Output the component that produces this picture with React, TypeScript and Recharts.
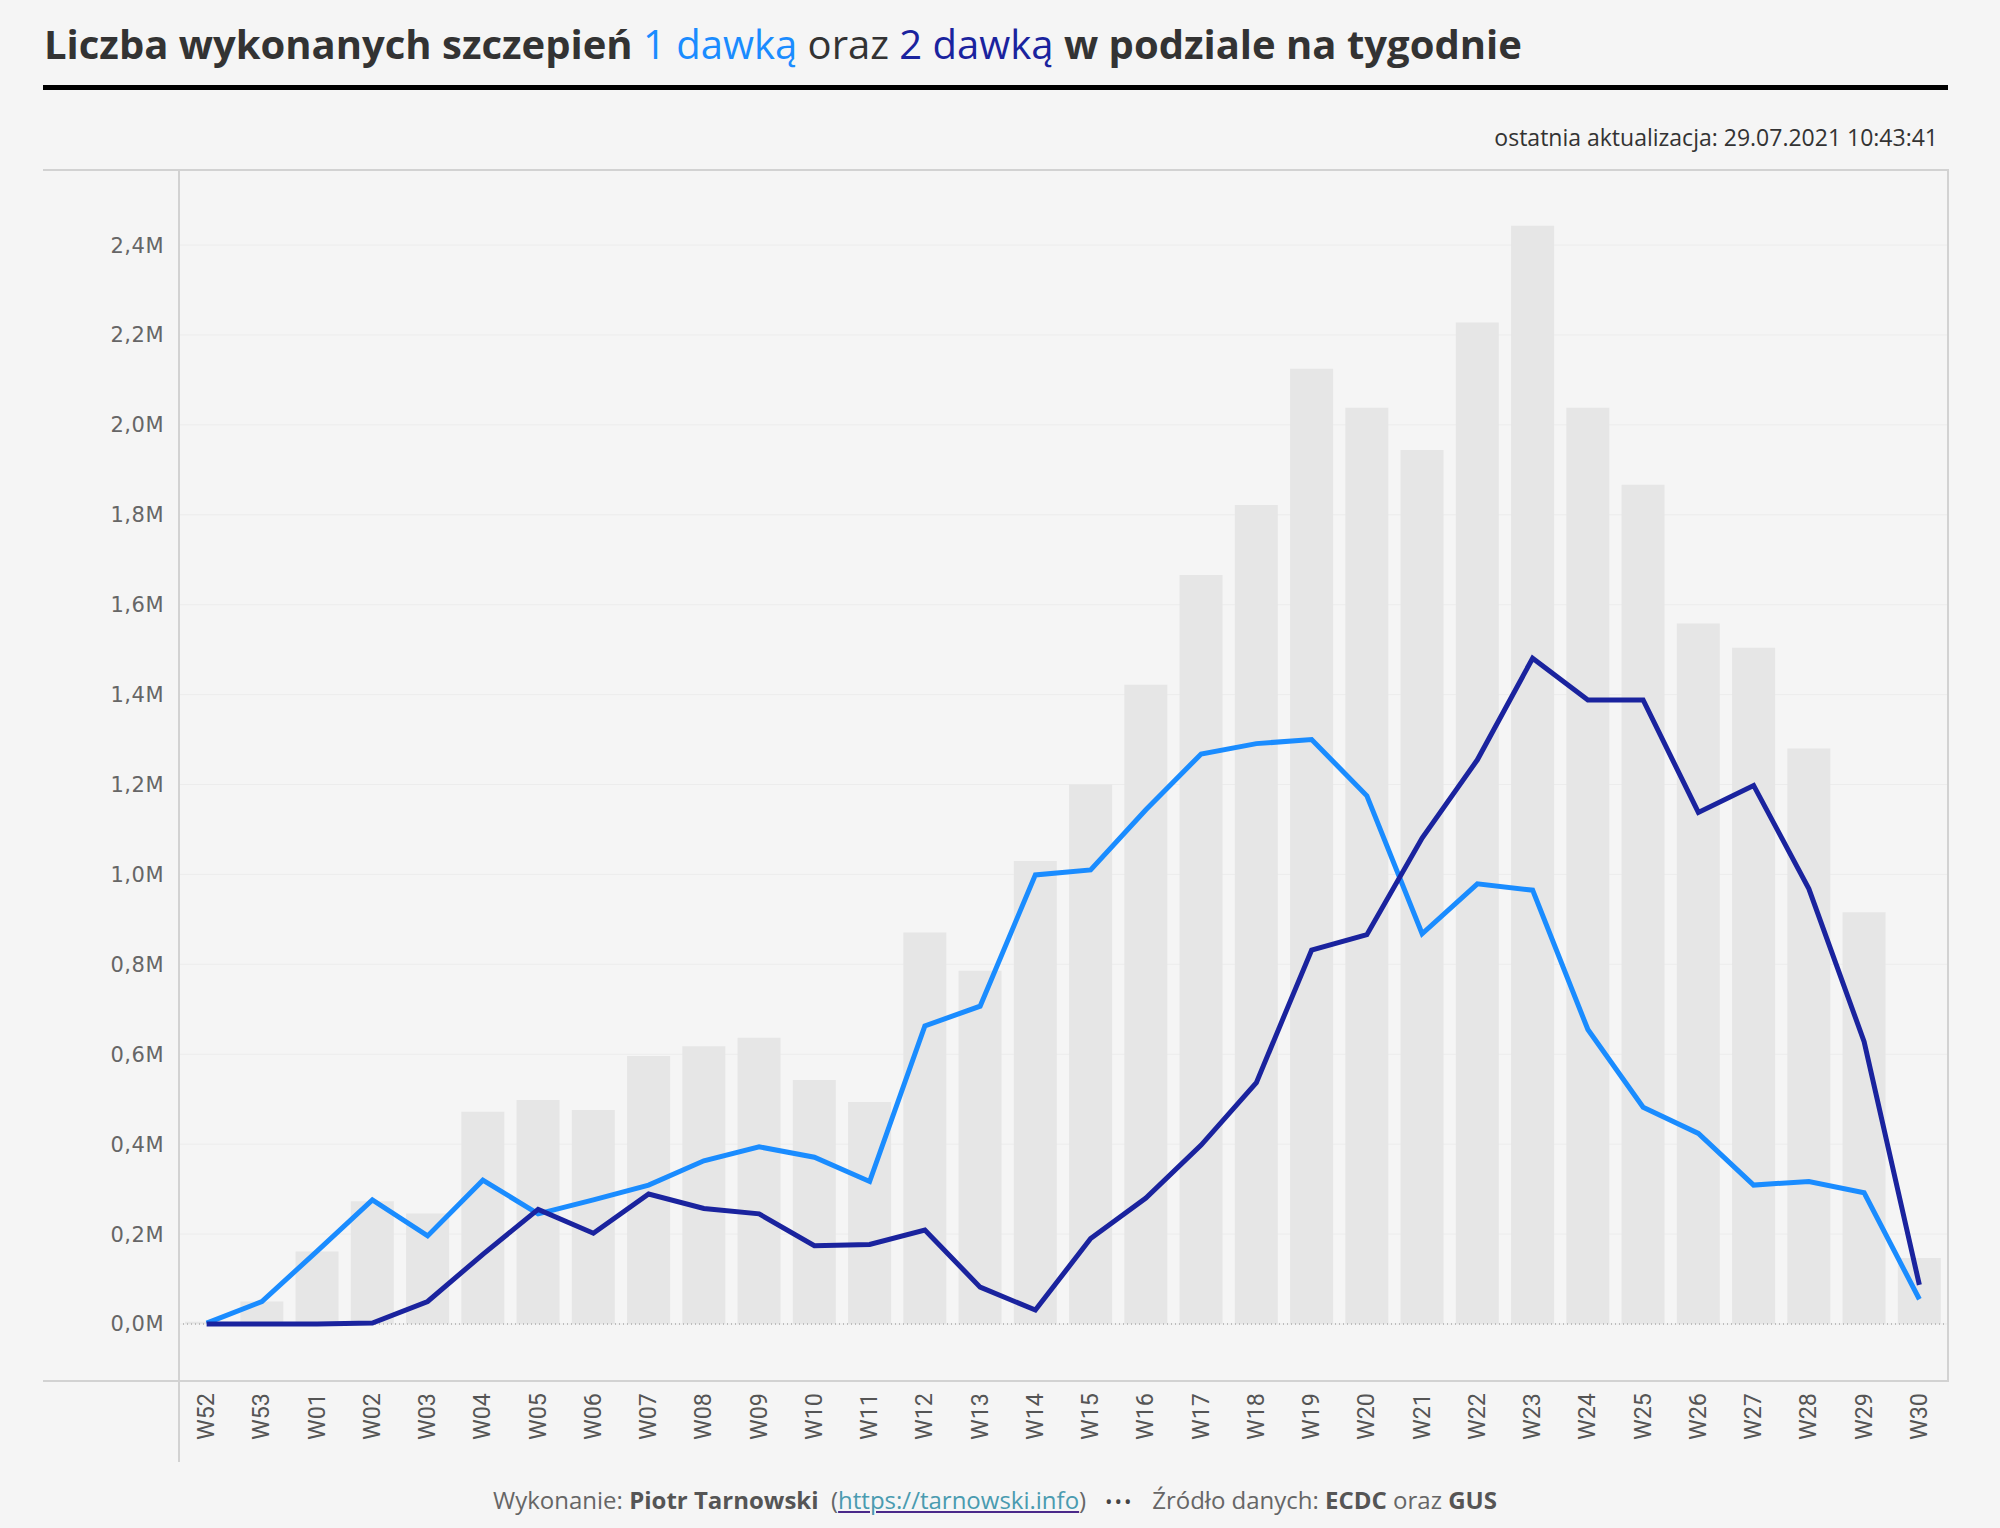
import React from 'react';
import {
  ComposedChart,
  Bar,
  Line,
  XAxis,
  YAxis,
  CartesianGrid,
  ReferenceLine,
} from 'recharts';

const tygodnie = [
  'W52', 'W53', 'W01', 'W02', 'W03', 'W04', 'W05', 'W06', 'W07', 'W08', 'W09',
  'W10', 'W11', 'W12', 'W13', 'W14', 'W15', 'W16', 'W17', 'W18', 'W19', 'W20',
  'W21', 'W22', 'W23', 'W24', 'W25', 'W26', 'W27', 'W28', 'W29', 'W30',
];

// suma szczepień w tygodniu (szare słupki)
const razem = [
  5000, 50000, 161000, 273000, 246000, 472000, 498000, 476000, 596000, 618000, 637000,
  543000, 494000, 871000, 786000, 1030000, 1200000, 1422000, 1666000, 1822000, 2125000, 2038000,
  1944000, 2228000, 2443000, 2038000, 1867000, 1558000, 1504000, 1280000, 916000, 147000,
];

const dawka1 = [
  2000, 50000, 162000, 276000, 196000, 320000, 245000, 276000, 309000, 363000, 394000,
  371000, 317000, 663000, 707000, 999000, 1010000, 1144000, 1268000, 1291000, 1300000, 1175000,
  868000, 979000, 965000, 655000, 482000, 424000, 309000, 317000, 292000, 55000,
];

const dawka2 = [
  0, 0, 0, 2000, 50000, 155000, 255000, 202000, 289000, 257000, 245000,
  174000, 177000, 209000, 82000, 31000, 190000, 280000, 398000, 537000, 832000, 866000,
  1081000, 1255000, 1481000, 1388000, 1388000, 1138000, 1198000, 968000, 628000, 87000,
];

const yTicks = [0, 200000, 400000, 600000, 800000, 1000000, 1200000, 1400000, 1600000, 1800000, 2000000, 2200000, 2400000];

const data = tygodnie.map((t, i) => ({
  tydzien: t,
  razem: razem[i],
  dawka1: dawka1[i],
  dawka2: dawka2[i],
}));

const JASNY = '#1a8cff';
const CIEMNY = '#1a239e';
const RAMKA = '#d2d2d2';

const formatY = (v: number) => (v / 1000000).toFixed(1).replace('.', ',') + 'M';

const XTick = (props: any) => {
  const { x, y, payload } = props;
  return (
    <text
      x={x}
      y={y}
      transform={`rotate(-90 ${x} ${y})`}
      textAnchor="end"
      dominantBaseline="central"
      fontFamily="Roboto, sans-serif"
      fontSize={23}
      fill="#555"
      textLength={47}
      lengthAdjust="spacingAndGlyphs"
    >
      {payload.value}
    </text>
  );
};

const line = (left: number, top: number, width: number, height: number, color = RAMKA) => (
  <div style={{ position: 'absolute', left, top, width, height, background: color }} />
);

export default function App() {
  return (
    <div
      style={{
        position: 'absolute',
        left: 0,
        top: 0,
        width: 2000,
        height: 1528,
        background: '#f5f5f5',
        overflow: 'hidden',
        fontFamily: '"Open Sans", Lato, sans-serif',
      }}
    >
      <div
        style={{
          position: 'absolute',
          left: 44,
          top: 17,
          fontSize: 40,
          lineHeight: '54px',
          fontWeight: 700,
          color: '#333',
          whiteSpace: 'nowrap',
        }}
      >
        Liczba wykonanych szczepień{' '}
        <span style={{ color: JASNY, fontWeight: 400 }}>1 dawką</span>{' '}
        <span style={{ fontWeight: 400 }}>oraz</span>{' '}
        <span style={{ color: CIEMNY, fontWeight: 400 }}>2 dawką</span> w podziale na tygodnie
      </div>
      {line(43, 85, 1905, 5, '#000')}

      <div
        style={{
          position: 'absolute',
          right: 2000 - 1938,
          top: 121,
          fontSize: 23,
          color: '#333',
          whiteSpace: 'nowrap',
        }}
      >
        ostatnia aktualizacja: 29.07.2021 10:43:41
      </div>

      <div style={{ position: 'absolute', left: 0, top: 0 }}>
        <ComposedChart
          width={2000}
          height={1528}
          data={data}
          margin={{ top: 170, right: 53, bottom: 0, left: 0 }}
          barCategoryGap="11%"
        >
          <CartesianGrid vertical={false} stroke="#ececec" strokeWidth={1} />
          <XAxis
            dataKey="tydzien"
            height={147}
            axisLine={false}
            tickLine={false}
            tickSize={0}
            tickMargin={12}
            interval={0}
            tick={<XTick />}
          />
          <YAxis
            width={179}
            domain={[-126800, 2567000]}
            ticks={yTicks}
            allowDataOverflow
            axisLine={false}
            tickLine={false}
            tickSize={0}
            tickMargin={15}
            tickFormatter={formatY}
            tick={{ fontFamily: '"DejaVu Sans", sans-serif', fontSize: 21, fill: '#666', letterSpacing: 0.5 }}
          />
          <ReferenceLine y={0} stroke="#bdbdbd" strokeWidth={2} strokeDasharray="1 3" />
          <Bar dataKey="razem" fill="#e6e6e6" isAnimationActive={false} />
          <Line
            dataKey="dawka1"
            stroke={JASNY}
            strokeWidth={5}
            dot={false}
            activeDot={false}
            isAnimationActive={false}
          />
          <Line
            dataKey="dawka2"
            stroke={CIEMNY}
            strokeWidth={5}
            dot={false}
            activeDot={false}
            isAnimationActive={false}
          />
        </ComposedChart>
      </div>

      {line(43, 169, 1906, 2)}
      {line(43, 1380, 1906, 2)}
      {line(178, 169, 2, 1293)}
      {line(1947, 169, 2, 1212)}

      <div
        style={{
          position: 'absolute',
          left: 0,
          width: 1990,
          top: 1483,
          textAlign: 'center',
          fontSize: 24,
          color: '#666',
          whiteSpace: 'pre',
        }}
      >
        Wykonanie: <b style={{ color: '#555' }}>Piotr Tarnowski</b>{'  '}(
        <span style={{ color: '#4a9bb0', textDecoration: 'underline', textDecorationColor: '#4b2a8a' }}>
          https://tarnowski.info
        </span>
        ){'   '}
        <span style={{ color: '#444', fontSize: 20, letterSpacing: 2 }}>•••</span>{'   '}Źródło danych:{' '}
        <b style={{ color: '#555' }}>ECDC</b> oraz <b style={{ color: '#555' }}>GUS</b>
      </div>
    </div>
  );
}
